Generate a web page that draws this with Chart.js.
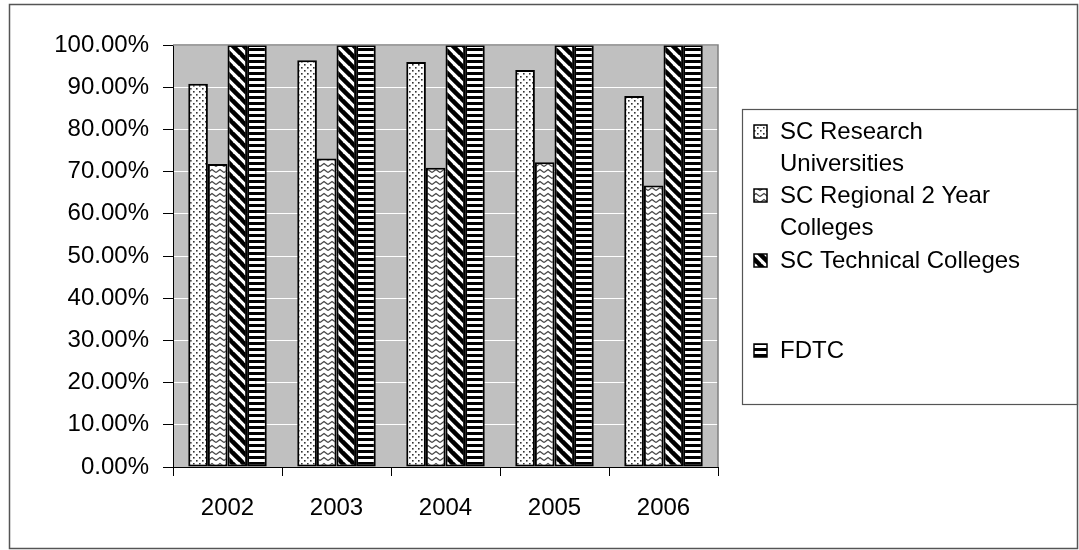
<!DOCTYPE html>
<html>
<head>
<meta charset="utf-8">
<script src="https://cdn.jsdelivr.net/npm/chart.js@4.4.0/dist/chart.umd.min.js"></script>
<style>
  html, body { margin: 0; padding: 0; background: #fff; }
  #wrap { width: 1079px; height: 550px; }
</style>
</head>
<body>
<div id="wrap"><canvas id="rateChart" width="1079" height="550"></canvas></div>
<script>
// values (percent)
var years = ['2002', '2003', '2004', '2005', '2006'];
var seriesNames = ['SC Research Universities', 'SC Regional 2 Year Colleges', 'SC Technical Colleges', 'FDTC'];
var research = [90.8, 96.4, 96.0, 94.1, 87.9];
var regional = [71.8, 73.1, 70.9, 72.2, 66.7];
var technical = [100, 100, 100, 100, 100];
var fdtc = [100, 100, 100, 100, 100];
var yTicks = [0, 10, 20, 30, 40, 50, 60, 70, 80, 90, 100];

var FONT = '"Liberation Sans", Arial, sans-serif';
var FS = 24;

function makeTile(w, h, draw) {
    var c = document.createElement('canvas');
    c.width = w; c.height = h;
    var g = c.getContext('2d');
    g.fillStyle = '#fff';
    g.fillRect(0, 0, w, h);
    draw(g);
    return document.createElement('canvas').getContext('2d').createPattern(c, 'repeat');
}

var dotPattern = makeTile(6, 6, function (g) {
    g.fillStyle = '#333';
    g.fillRect(1, 1, 1.6, 1.6);
    g.fillRect(4, 4, 1.6, 1.6);
});
var wavePattern = makeTile(8, 6, function (g) {
    g.strokeStyle = '#444';
    g.lineWidth = 1.3;
    g.beginPath();
    g.moveTo(0, 4.5); g.lineTo(4, 1.5); g.lineTo(8, 4.5);
    g.stroke();
});
var diagPattern = makeTile(11, 11, function (g) {
    g.strokeStyle = '#000';
    g.lineWidth = 4.5;
    [-11, 0, 11].forEach(function (k) {
        g.beginPath();
        g.moveTo(k - 1, -1); g.lineTo(k + 12, 12);
        g.stroke();
    });
});
var stripePattern = makeTile(4, 6, function (g) {
    g.fillStyle = '#000';
    g.fillRect(0, 0, 4, 3);
});

var patterns = [dotPattern, wavePattern, diagPattern, stripePattern];
var seriesData = [research, regional, technical, fdtc];

var frame = {
    id: 'frame',
    beforeDraw: function (chart) {
        var ctx = chart.ctx, a = chart.chartArea;
        ctx.save();
        ctx.fillStyle = '#c0c0c0';
        ctx.fillRect(a.left, a.top, a.right - a.left, a.bottom - a.top);
        ctx.restore();
    },
    afterDraw: function (chart) {
        var ctx = chart.ctx, a = chart.chartArea;
        ctx.save();
        ctx.strokeStyle = '#808080';
        ctx.lineWidth = 1.5;
        ctx.beginPath();
        ctx.moveTo(a.left, a.top); ctx.lineTo(a.right, a.top); ctx.lineTo(a.right, a.bottom);
        ctx.stroke();
        // outer chart border
        ctx.strokeStyle = '#555';
        ctx.lineWidth = 1.5;
        ctx.strokeRect(9.5, 4.5, 1068, 544);

        // legend
        ctx.strokeStyle = '#555';
        ctx.lineWidth = 1.2;
        ctx.strokeRect(742.5, 109.5, 335, 295);
        ctx.font = FS + 'px ' + FONT;
        ctx.fillStyle = '#000';
        ctx.textBaseline = 'middle';
        var firstLine = [131, 195, 260, 350];
        chart.data.datasets.forEach(function (ds, i) {
            var words = ds.label.split(' '), lines = [], cur = '';
            words.forEach(function (w) {
                var t = cur ? cur + ' ' + w : w;
                if (ctx.measureText(t).width > FS * 10.6 && cur) { lines.push(cur); cur = w; } else { cur = t; }
            });
            lines.push(cur);
            var y = firstLine[i];
            ctx.fillStyle = ds.backgroundColor;
            ctx.fillRect(754, y - 6, 13, 13);
            ctx.strokeStyle = '#000';
            ctx.lineWidth = 1.5;
            ctx.strokeRect(754, y - 6, 13, 13);
            ctx.fillStyle = '#000';
            lines.forEach(function (l, j) {
                ctx.fillText(l, 780, y + 1 + j * 32);
            });
        });
        ctx.restore();
    }
};

var ctx = document.getElementById('rateChart').getContext('2d');
var rateChart = new Chart(ctx, {
    type: 'bar',
    data: {
        labels: years,
        datasets: seriesNames.map(function (name, i) {
            return {
                label: name,
                data: seriesData[i],
                backgroundColor: patterns[i],
                borderColor: '#000',
                borderWidth: 2,
                borderSkipped: false,
                barPercentage: 1.0,
                categoryPercentage: 0.72
            };
        })
    },
    options: {
        responsive: false,
        animation: false,
        layout: { padding: { left: 0, top: 45, right: 361, bottom: 0 } },
        plugins: {
            legend: { display: false },
            tooltip: { enabled: false }
        },
        scales: {
            x: {
                grid: { display: true, drawOnChartArea: false, drawTicks: true, tickLength: 9, color: '#000', offset: true },
                border: { color: '#000', width: 1 },
                ticks: { color: '#000', font: { family: FONT, size: FS }, padding: 18 },
                afterFit: function (s) { s.height = 83; }
            },
            y: {
                min: 0,
                max: 100,
                afterBuildTicks: function (s) { s.ticks = yTicks.map(function (v) { return { value: v }; }); },
                grid: { color: '#fff', lineWidth: 1, tickColor: '#000', tickLength: 10, drawTicks: true },
                border: { color: '#000', width: 1 },
                ticks: {
                    color: '#000',
                    font: { family: FONT, size: FS },
                    padding: 14,
                    callback: function (v) { return v.toFixed(2) + '%'; }
                },
                afterFit: function (s) { s.width = 173; }
            }
        }
    },
    plugins: [frame]
});
</script>
</body>
</html>
